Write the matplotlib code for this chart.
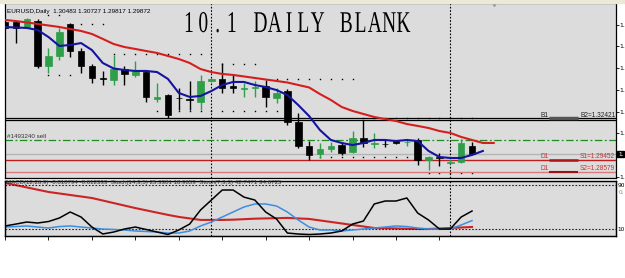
import numpy as np
import matplotlib.pyplot as plt
from matplotlib.patheffects import AbstractPathEffect
from matplotlib.transforms import Affine2D
from matplotlib.patches import Rectangle

# daily EURUSD bars
opens = [1.3949, 1.3949, 1.3913, 1.3957, 1.3629, 1.3702, 1.3935, 1.3738, 1.3629, 1.3538,
         1.3527, 1.3607, 1.3564, 1.3585, 1.3389, 1.3418, 1.3396, 1.3389, 1.3367, 1.3520,
         1.3535, 1.3484, 1.3465, 1.3469, 1.3484, 1.3396, 1.3447, 1.3222, 1.3047, 1.2989,
         1.3025, 1.3055, 1.3004, 1.3105, 1.3065, 1.3062, 1.3084, 1.3073, 1.3091, 1.2945,
         1.2967, 1.2927, 1.2931, 1.30483]
highs = [1.3964, 1.3957, 1.3979, 1.3971, 1.3760, 1.3906, 1.3942, 1.3760, 1.3644, 1.3593,
         1.3709, 1.3629, 1.3665, 1.3600, 1.3505, 1.3425, 1.3469, 1.3520, 1.3564, 1.3542,
         1.3651, 1.3564, 1.3505, 1.3520, 1.3527, 1.3469, 1.3462, 1.3287, 1.3084, 1.3069,
         1.3076, 1.3076, 1.3156, 1.3236, 1.3142, 1.3098, 1.3091, 1.3091, 1.3105, 1.2974,
         1.2996, 1.2953, 1.3098, 1.30727]
lows = [1.3898, 1.3796, 1.3906, 1.3615, 1.3578, 1.3673, 1.3695, 1.3578, 1.3505, 1.3491,
        1.3491, 1.3491, 1.3549, 1.3367, 1.3367, 1.3251, 1.3309, 1.3309, 1.3309, 1.3513,
        1.3433, 1.3433, 1.3404, 1.3404, 1.3331, 1.3360, 1.3200, 1.3033, 1.2945, 1.2960,
        1.3004, 1.2982, 1.2996, 1.3040, 1.3033, 1.3040, 1.3062, 1.3047, 1.2909, 1.2873,
        1.2902, 1.2916, 1.2924, 1.29817]
closes = [1.3906, 1.3906, 1.3971, 1.3629, 1.3702, 1.3876, 1.3738, 1.3629, 1.3542, 1.3535,
          1.3607, 1.3571, 1.3593, 1.3404, 1.3404, 1.3273, 1.3393, 1.3385, 1.3520, 1.3535,
          1.3469, 1.3469, 1.3469, 1.3476, 1.3404, 1.3433, 1.3222, 1.3047, 1.2982, 1.3025,
          1.3047, 1.2996, 1.3105, 1.3069, 1.3069, 1.3058, 1.3069, 1.3076, 1.2945, 1.2967,
          1.2963, 1.2931, 1.3069, 1.29872]

# moving averages (shifted forward, so they run past the last bar)
ma_slow = [1.3964, 1.3956, 1.3946, 1.3935, 1.3924, 1.3913, 1.3898, 1.3884, 1.3862, 1.3826,
           1.3789, 1.3767, 1.3753, 1.3738, 1.3724, 1.3702, 1.3680, 1.3651, 1.3607, 1.3585,
           1.3571, 1.3564, 1.3553, 1.3542, 1.3531, 1.3520, 1.3509, 1.3491, 1.3473, 1.3425,
           1.3382, 1.3331, 1.3302, 1.3280, 1.3258, 1.3243, 1.3229, 1.3207, 1.3193, 1.3178,
           1.3156, 1.3142, 1.3113, 1.3091, 1.3069, 1.3069]
ma_fast = [1.3913, 1.3909, 1.3906, 1.3891, 1.3840, 1.3775, 1.3782, 1.3796, 1.3745, 1.3651,
           1.3611, 1.3600, 1.3593, 1.3593, 1.3585, 1.3535, 1.3433, 1.3404, 1.3411, 1.3447,
           1.3491, 1.3513, 1.3513, 1.3491, 1.3476, 1.3454, 1.3418, 1.3345, 1.3265, 1.3163,
           1.3091, 1.3069, 1.3054, 1.3069, 1.3091, 1.3091, 1.3083, 1.3091, 1.3083, 1.3011,
           1.2967, 1.2960, 1.2960, 1.2982, 1.3011]

nan = np.nan
upper_dots = [nan, nan, nan, nan, 1.4000, 1.4000, nan, 1.3935, 1.3935, 1.3935,
              1.3716, 1.3716, 1.3716, 1.3716, 1.3716, 1.3716, 1.3716, 1.3716, 1.3716, 1.3716,
              1.3644, 1.3644, 1.3644, 1.3644, nan, 1.3535, 1.3535, 1.3535, 1.3535, 1.3535,
              1.3535, 1.3535, 1.3535, 1.3251, 1.3251, 1.3251, 1.3251, 1.3251, 1.3251, 1.3251,
              1.3251, 1.3251, 1.3251, 1.3251]
lower_dots = [nan, nan, nan, nan, 1.3564, 1.3564, 1.3564, nan, nan, nan,
              nan, nan, nan, nan, 1.3305, 1.3305, 1.3305, 1.3305, 1.3305, 1.3305,
              1.3305, 1.3305, 1.3305, 1.3305, 1.3305, 1.3305, nan, nan, 1.2967, 1.2967,
              1.2967, 1.2967, 1.2967, 1.2967, 1.2967, 1.2967, 1.2967, 1.2967, nan, 1.2851,
              1.2851, 1.2851, 1.2851, 1.2851]

# indicator window
macd_signal = [0.0052, 0.0043, 0.0034, 0.0025, 0.0016, 0.0010, 0.0004, -0.0002, -0.0008, -0.0018,
               -0.0028, -0.0038, -0.0048, -0.0057, -0.0066, -0.0075, -0.0083, -0.0089, -0.0095, -0.0095,
               -0.0095, -0.0094, -0.0092, -0.0090, -0.0089, -0.0088, -0.0087, -0.0089, -0.0091, -0.0097,
               -0.0103, -0.0109, -0.0115, -0.0121, -0.0127, -0.0128, -0.0129, -0.0130, -0.0131, -0.0131,
               -0.0129, -0.0127, -0.0125, -0.0123]
stoch7 = [15.5, 19, 22.7, 20.9, 23.6, 30, 40.9, 31.8, 13.6, 1,
          4.5, 10, 13.6, 9.1, 4.5, 0, 8.2, 19, 44.5, 62.7,
          80.9, 80.9, 68, 62.7, 40.9, 28.2, 2.7, 0.9, 0, 0.9,
          2.7, 6.4, 19, 24.5, 55.5, 60.9, 60.9, 66.4, 39, 26.4,
          10, 10, 31.8, 42.7]
stoch14 = [13.6, 14.5, 15.5, 13.6, 11.8, 14.5, 15.5, 13.6, 11.8, 10,
           9.1, 8.2, 6.4, 5.5, 4.5, 2.7, 2.7, 6.4, 15.5, 22.7,
           31.8, 40.9, 50, 55.5, 55.5, 51.8, 40.9, 26.4, 13.6, 8.2,
           8.2, 6.4, 8.2, 10, 11.8, 13.6, 15.5, 14.5, 11.8, 10,
           10, 10, 17.3, 25.3]

# price scale: only "1." of each label fits before the window edge
right_ticks = [1.2824, 1.3140, 1.3298, 1.3456, 1.3614, 1.3772, 1.3930]
separators = [19, 41]
title = "10.1 DAILY BLANK"

W, H = 625, 278
BG = '#dcdcdc'


def rect(x0, y0, x1, y1):
    return [x0 / W, 1 - y1 / H, (x1 - x0) / W, (y1 - y0) / H]


class Stretch(AbstractPathEffect):
    # tall, narrow glyphs like the mincho font of the screenshot
    def __init__(self, sx, sy):
        super().__init__()
        self.sx, self.sy = sx, sy

    def draw_path(self, renderer, gc, tpath, affine, rgbFace=None):
        v = tpath.vertices
        cx = (v[:, 0].min() + v[:, 0].max()) / 2 if len(v) else 0
        pre = Affine2D().translate(-cx, 0).scale(self.sx, self.sy).translate(cx, 0)
        renderer.draw_path(gc, tpath, pre + affine, rgbFace)


fig = plt.figure(figsize=(W / 100, H / 100), dpi=100, facecolor='white')
fig.patches.append(Rectangle((0, 1 - 3 / H), 1, 3 / H, transform=fig.transFigure,
                             color='#ece9d8', zorder=0))

xmin, xmax = -0.05, 56.26

# ---- main price window
ax = fig.add_axes(rect(4.5, 3, 616, 177.5))
ax.set_facecolor(BG)
ax.set_xlim(xmin, xmax)
ax.set_ylim(1.28179, 1.40874)

x = np.arange(len(opens))
o, h, l, c = map(np.array, (opens, highs, lows, closes))
cols = np.where(c > o, '#2e9e48', 'black')
ax.vlines(x, l, h, colors=cols, lw=1, zorder=3)
ax.bar(x, np.maximum(np.abs(c - o), 0.0004), bottom=np.minimum(o, c), width=0.6,
       color=cols, edgecolor=cols, lw=0.5, zorder=4)

ax.plot(np.arange(len(ma_slow)), ma_slow, color='#d61e1e', lw=1.5, zorder=5)
ax.plot(np.arange(len(ma_fast)), ma_fast, color='#1414a0', lw=1.5, zorder=5)
ax.plot(x, upper_dots, ls='none', marker='s', ms=1.0, mew=0, color='black', zorder=2)
ax.plot(x, lower_dots, ls='none', marker='s', ms=1.0, mew=0, color='black', zorder=2)

# horizontal levels
ax.axhline(1.3252, color='black', lw=0.9, zorder=2)
ax.axhline(1.3233, color='black', lw=0.9, zorder=2)
ax.axhline(1.3091, color='#1e8c1e', lw=0.9, ls=(0, (6, 2, 1.5, 2)), zorder=2)
ax.axhline(1.29872, color='#b4b4b4', lw=1, zorder=1)
ax.axhline(1.29452, color='#c01e1e', lw=1, zorder=2)
ax.axhline(1.28579, color='#dc7a7a', lw=1, zorder=2)
ax.hlines(1.3254, 50.1, 52.8, color='#555555', lw=2.5, zorder=6)
ax.hlines(1.29452, 50.1, 52.8, color='#b01414', lw=1.8, zorder=6)
ax.hlines(1.28579, 50.1, 52.8, color='#a01010', lw=1.5, zorder=6)

lab = dict(family='Liberation Sans', fontsize=4.7, va='baseline', zorder=7)
ax.text(49.35, 1.3258, 'B1', color='#222222', **lab)
ax.text(52.95, 1.3258, 'B2=1.32421', color='#222222', **lab)
ax.text(49.35, 1.2960, 'D1', color='#c83232', **lab)
ax.text(52.95, 1.2960, 'S1=1.29452', color='#c83232', **lab)
ax.text(49.35, 1.2869, 'D1', color='#c83232', **lab)
ax.text(52.95, 1.2869, 'S2=1.28579', color='#c83232', **lab)
ax.text(0.2, 1.3105, '#1493240 sell', color='#333333', family='Liberation Sans',
        fontsize=4.5, va='baseline')

ax.plot(45, 1.40874, marker='v', ms=4, color='#9a9a9a', clip_on=False, zorder=8)

ax.set_xticks([])
ax.yaxis.tick_right()
ax.set_yticks(right_ticks)
ax.set_yticklabels(['1.' for t in right_ticks])
ax.tick_params(axis='y', length=2, width=0.6, labelsize=4.4, pad=0.5)
for s in ax.spines.values():
    s.set_linewidth(0.9)

# ---- indicator window
ax2 = fig.add_axes(rect(4.5, 180.5, 616, 235.5))
ax2.set_xlim(xmin, xmax)
ax2.set_ylim(-1.8, 98.2)
axm = ax2.twinx()
axm.set_ylim(-0.01568, 0.00615)
ax2.set_zorder(axm.get_zorder() + 1)
ax2.patch.set_visible(False)
axm.patch.set_visible(True)
axm.patch.set_facecolor(BG)
axm.plot(np.arange(len(macd_signal)), macd_signal, color='#cc2424', lw=1.5)
axm.set_yticks([])

ax2.axhline(90, color='#202050', lw=0.8, ls=(0, (1.5, 1.5)))
ax2.axhline(10, color='#202050', lw=0.8, ls=(0, (1.5, 1.5)))
ax2.plot(np.arange(len(stoch14)), stoch14, color='#3d8ee0', lw=1.1)
ax2.plot(np.arange(len(stoch7)), stoch7, color='black', lw=1.1)

ax2.set_xticks(range(0, 44, 4))
ax2.set_xticklabels([])
ax2.tick_params(axis='x', length=3, width=0.6, direction='out')
ax2.yaxis.tick_right()
ax2.set_yticks([10, 90])
ax2.set_yticklabels(['10', '90'])
ax2.tick_params(axis='y', length=0, labelsize=4.2, pad=1.0)
ax2.text(56.5, 76, '0.', fontsize=4.2, color='#a08040', va='center', clip_on=False)
ax2.text(0.1, 92.5, 'MACD(12,26,9) -0.010794 -0.012333  Stoch(14,3,5) 25.3381 18.9653  '
         'Stoch(7,3,3) 42.7471 34.6725', family='Liberation Sans', fontsize=4.4,
         color='#333333', va='baseline')
for s in list(ax2.spines.values()) + list(axm.spines.values()):
    s.set_linewidth(0.9)

for a in (ax, ax2):
    for sep in separators:
        a.axvline(sep, color='black', lw=0.8, ls=(0, (1.5, 1.5)), zorder=1)

# labels on top
fig.text(7 / W, 1 - 13 / H, 'EURUSD,Daily  1.30483 1.30727 1.29817 1.29872',
         family='Liberation Sans', fontsize=4.6, color='black', va='baseline')
fig.text(618 / W, 1 - 154 / H, '1.', fontsize=4.2, color='white', va='center',
         bbox=dict(facecolor='black', edgecolor='black', pad=0.5))

for i, ch in enumerate(title):
    if ch != ' ':
        fig.text((189 + 14.3 * i) / W, 1 - 32 / H, ch, family='Liberation Serif',
                 fontsize=14, ha='center', va='baseline', color='black',
                 path_effects=[Stretch(1.0, 1.55)])

fig.savefig('out.png', dpi=100)
